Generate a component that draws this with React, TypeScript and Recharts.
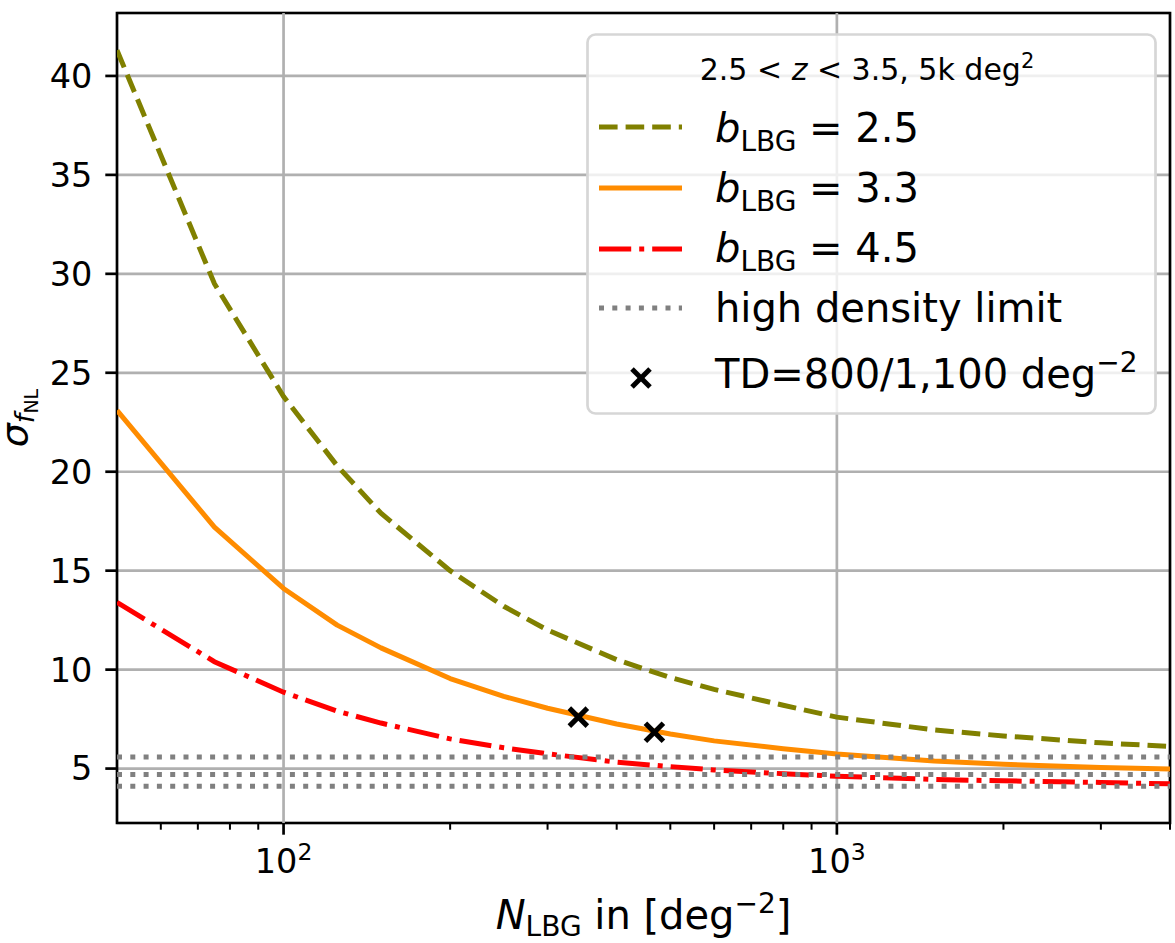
import React from 'react';
import {
  ComposedChart,
  Line,
  Scatter,
  XAxis,
  YAxis,
  CartesianGrid,
  ReferenceLine,
  ReferenceArea,
  Legend,
} from 'recharts';

// Surface density of LBGs [deg^-2] at which the forecasts were evaluated
const nValues = [50, 75, 100, 125, 150, 200, 250, 300, 400, 500, 600, 800, 1000, 1500, 2000, 3000, 4000];

// sigma(f_NL) for each LBG bias
const sigmaBias25 = [41.3, 29.5, 23.8, 20.3, 17.9, 15.0, 13.2, 12.0, 10.5, 9.6, 9.0, 8.2, 7.6, 6.95, 6.65, 6.3, 6.12];
const sigmaBias33 = [23.1, 17.2, 14.1, 12.25, 11.1, 9.55, 8.65, 8.05, 7.25, 6.75, 6.4, 6.0, 5.74, 5.38, 5.22, 5.05, 4.98];
const sigmaBias45 = [13.4, 10.4, 8.86, 7.9, 7.3, 6.5, 6.05, 5.75, 5.32, 5.1, 4.93, 4.74, 4.61, 4.45, 4.38, 4.3, 4.23];

// Cosmic-variance (infinite density) limits for b = 2.5, 3.3, 4.5
const highDensityLimits = [5.58, 4.7, 4.11];

// Target-density points
const tdDensities = [341, 468];
const tdSigma = [7.6, 6.84];

// Axis ticks
const xMajorTicks = [100, 1000];
const xMinorTicks = [60, 70, 80, 90, 200, 300, 400, 500, 600, 700, 800, 900, 2000, 3000, 4000];
const yTicks = [5, 10, 15, 20, 25, 30, 35, 40];

const xDomain: [number, number] = [50, 4000];
const yDomain: [number, number] = [2.25, 43.18];

const OLIVE = '#808000';
const ORANGE = '#ff8c00';
const RED = '#ff0000';
const GRAY = '#808080';
const GRID = '#b0b0b0';

const LW = 5;
const DASHED = '18.6 8';
const DASHDOT = '32.2 8 5 8';
const DOTTED = '5 8.3';

const toSeries = (ys: number[]) => nValues.map((n, i) => ({ n, sigma: ys[i] }));
const seriesB25 = toSeries(sigmaBias25);
const seriesB33 = toSeries(sigmaBias33);
const seriesB45 = toSeries(sigmaBias45);
const limitSeries = highDensityLimits.map((v) => [
  { n: xDomain[0], sigma: v },
  { n: xDomain[1], sigma: v },
]);
const tdPoints = tdDensities.map((n, i) => ({ n, sigma: tdSigma[i] }));
const allXTicks = [...xMajorTicks, ...xMinorTicks].sort((a, b) => a - b);

function XTick(props: any) {
  const { x, y, payload } = props;
  const v = payload.value as number;
  if (!xMajorTicks.includes(v)) {
    return <line x1={x} x2={x} y1={y} y2={y + 6.7} stroke="#000" strokeWidth={2} />;
  }
  const exp = Math.round(Math.log10(v));
  return (
    <g>
      <line x1={x} x2={x} y1={y} y2={y + 11.7} stroke="#000" strokeWidth={2.7} />
      <text x={x} y={y + 50} textAnchor="middle" fontSize={33.5} fill="#000">
        10
        <tspan fontSize={23.5} dy={-13}>
          {exp}
        </tspan>
      </text>
    </g>
  );
}

function XLabel(props: any) {
  const { viewBox } = props;
  const cx = viewBox.x + viewBox.width / 2;
  const by = viewBox.y + 106;
  return (
    <text x={cx} y={by} textAnchor="middle" fontSize={40} fill="#000">
      <tspan fontStyle="italic">N</tspan>
      <tspan fontSize={28} dy={7}>LBG</tspan>
      <tspan dy={-7}> in [deg</tspan>
      <tspan fontSize={28} dy={-16}>−2</tspan>
      <tspan dy={16}>]</tspan>
    </text>
  );
}

function YLabel(props: any) {
  const { viewBox } = props;
  const cy = viewBox.y + viewBox.height / 2;
  const bx = 27;
  return (
    <text transform={`rotate(-90 ${bx} ${cy})`} x={bx} y={cy} textAnchor="middle" fontSize={38} fill="#000">
      <tspan fontStyle="italic">σ</tspan>
      <tspan fontStyle="italic" fontSize={27} dy={7}>f</tspan>
      <tspan fontSize={19} dy={4}>NL</tspan>
    </text>
  );
}

function XMarker(props: any) {
  const { cx, cy } = props;
  const r = 9;
  return (
    <g stroke="#000" strokeWidth={5}>
      <line x1={cx - r} y1={cy - r} x2={cx + r} y2={cy + r} />
      <line x1={cx - r} y1={cy + r} x2={cx + r} y2={cy - r} />
    </g>
  );
}

const LEG_W = 571;
const LEG_H = 382;

function BiasLabel({ y, value }: { y: number; value: string }) {
  return (
    <text x={129} y={y} fontSize={40} fill="#000">
      <tspan fontStyle="italic">b</tspan>
      <tspan fontSize={28} dy={9}>LBG</tspan>
      <tspan dy={-9}> = {value}</tspan>
    </text>
  );
}

function LegendBox() {
  return (
    <svg width={LEG_W} height={LEG_H} style={{ display: 'block' }}>
      <rect x={1.5} y={1.5} width={LEG_W - 3} height={LEG_H - 3} rx={8} ry={8} fill="rgba(255,255,255,0.8)" stroke="#d6d6d6" strokeWidth={2.7} />
      <text x={281} y={47} textAnchor="middle" fontSize={30} fill="#000">
        2.5 &lt; <tspan fontStyle="italic">z</tspan> &lt; 3.5, 5k deg
        <tspan fontSize={21} dy={-12}>2</tspan>
      </text>
      <line x1={13} x2={96} y1={94} y2={94} stroke={OLIVE} strokeWidth={LW} strokeDasharray={DASHED} />
      <BiasLabel y={109} value="2.5" />
      <line x1={13} x2={96} y1={155} y2={155} stroke={ORANGE} strokeWidth={LW} />
      <BiasLabel y={169} value="3.3" />
      <line x1={13} x2={96} y1={216} y2={216} stroke={RED} strokeWidth={LW} strokeDasharray={DASHDOT} />
      <BiasLabel y={229} value="4.5" />
      <line x1={13} x2={96} y1={275} y2={275} stroke={GRAY} strokeWidth={LW} strokeDasharray={DOTTED} />
      <text x={129} y={289} fontSize={40} fill="#000">high density limit</text>
      <XMarker cx={55} cy={345} />
      <text x={129} y={355} fontSize={40} fill="#000">
        TD=800/1,100 deg
        <tspan fontSize={28} dy={-16}>−2</tspan>
      </text>
    </svg>
  );
}

export default function App() {
  return (
    <div style={{ position: 'absolute', left: 0, top: 0, width: 1175, height: 943, background: '#fff', fontFamily: '"DejaVu Sans", sans-serif' }}>
      <ComposedChart width={1175} height={943} margin={{ top: 13, right: 5, bottom: 0, left: 0 }}>
        <CartesianGrid vertical={false} stroke={GRID} strokeWidth={2.7} />
        <ReferenceLine x={xMajorTicks[0]} stroke={GRID} strokeWidth={2.7} />
        <ReferenceLine x={xMajorTicks[1]} stroke={GRID} strokeWidth={2.7} />
        <XAxis
          type="number"
          dataKey="n"
          scale="log"
          domain={xDomain}
          allowDataOverflow
          ticks={allXTicks}
          interval={0}
          tick={<XTick />}
          tickLine={false}
          axisLine={false}
          tickSize={0}
          tickMargin={0}
          height={120}
          label={<XLabel />}
        />
        <YAxis
          type="number"
          dataKey="sigma"
          domain={yDomain}
          allowDataOverflow
          ticks={yTicks}
          interval={0}
          width={117}
          tick={{ fontSize: 33.5, fill: '#000' }}
          tickLine={{ stroke: '#000', strokeWidth: 2.7 }}
          tickSize={11.7}
          tickMargin={13}
          axisLine={false}
          label={<YLabel />}
        />
        <Line data={seriesB25} dataKey="sigma" type="linear" stroke={OLIVE} strokeWidth={LW} strokeDasharray={DASHED} dot={false} activeDot={false} isAnimationActive={false} />
        <Line data={seriesB33} dataKey="sigma" type="linear" stroke={ORANGE} strokeWidth={LW} strokeLinejoin="round" dot={false} activeDot={false} isAnimationActive={false} />
        <Line data={seriesB45} dataKey="sigma" type="linear" stroke={RED} strokeWidth={LW} strokeDasharray={DASHDOT} dot={false} activeDot={false} isAnimationActive={false} />
        {limitSeries.map((d, i) => (
          <Line key={i} data={d} dataKey="sigma" type="linear" stroke={GRAY} strokeWidth={LW} strokeDasharray={DOTTED} dot={false} activeDot={false} isAnimationActive={false} />
        ))}
        <Scatter data={tdPoints} dataKey="sigma" shape={<XMarker />} isAnimationActive={false} />
        <ReferenceArea x1={xDomain[0]} x2={xDomain[1]} y1={yDomain[0]} y2={yDomain[1]} fill="none" stroke="#000" strokeWidth={2.7} ifOverflow="visible" />
        <Legend
          layout="vertical"
          align="center"
          verticalAlign="middle"
          content={() => <LegendBox />}
          wrapperStyle={{ left: 586, top: 33, width: LEG_W, height: LEG_H }}
        />
      </ComposedChart>
    </div>
  );
}
